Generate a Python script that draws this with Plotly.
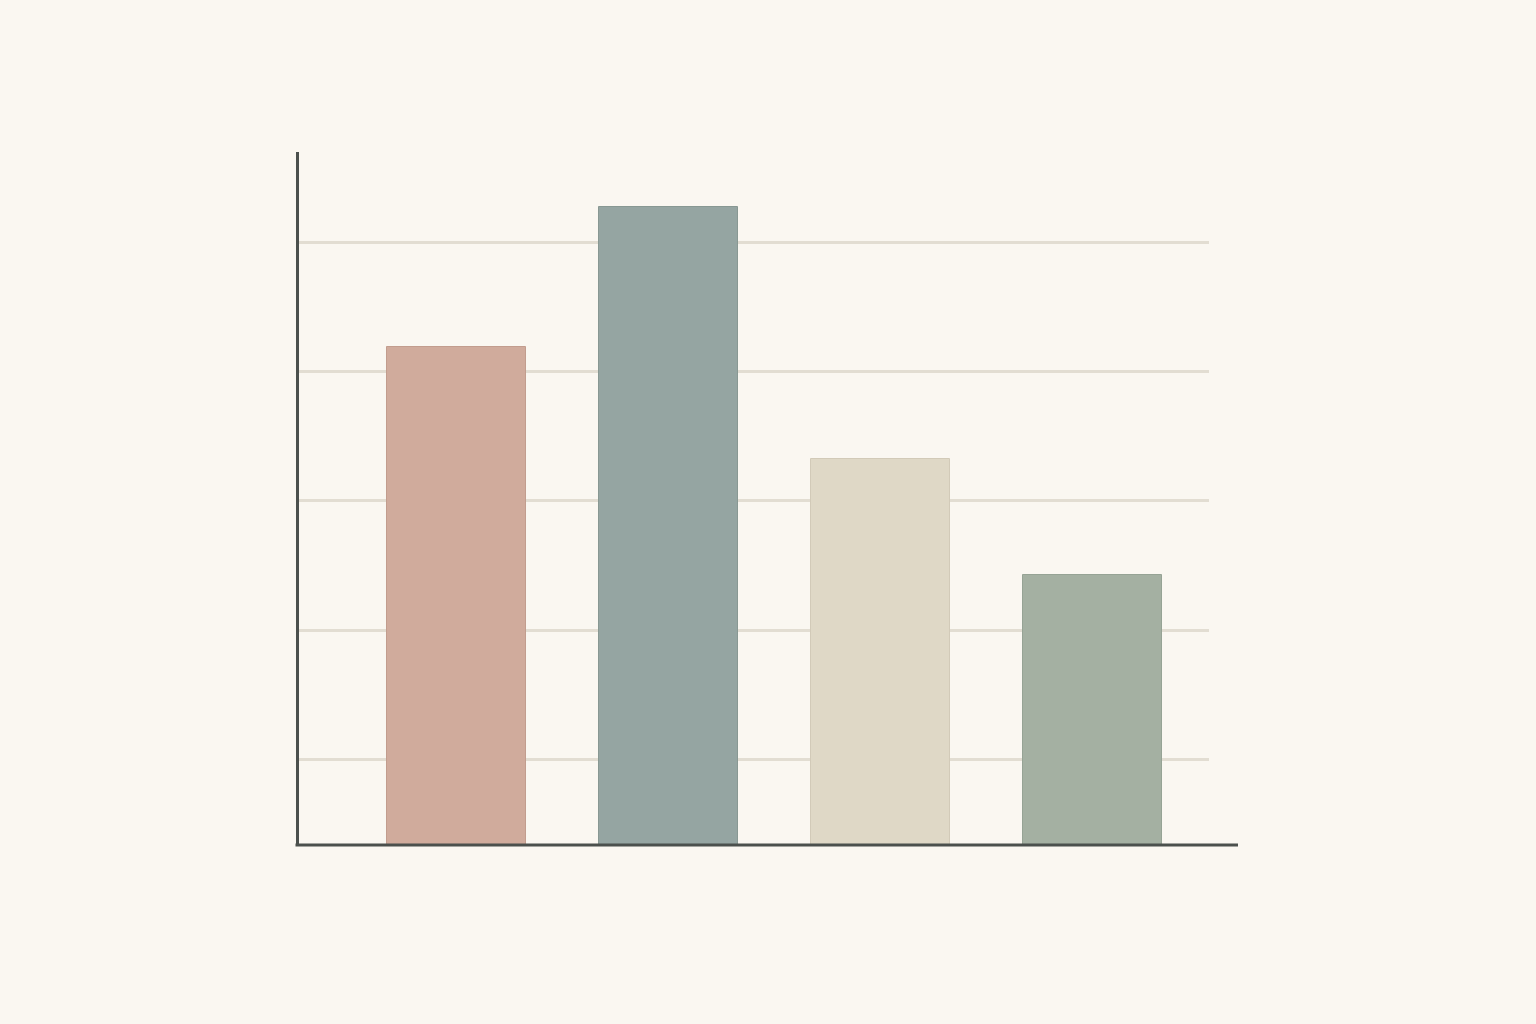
import plotly.graph_objects as go

# bar values (no labels in the picture, read off the pixel scale)
categories = [0, 1, 2, 3]
values = [38.5, 49.4, 29.9, 20.9]
bar_colors = ["#D0AB9C", "#95A5A2", "#DFD8C6", "#A4B0A2"]
edge_colors = ["#C29D8E", "#889893", "#D2CAB8", "#96A395"]
grid_vals = [6.65, 16.63, 26.62, 36.6, 46.65]

W, H = 1536, 1024
bg = "#FAF7F1"
axis_col = "#4B504D"

fig = go.Figure()
fig.add_trace(go.Bar(
    x=categories, y=values,
    width=0.656,
    marker=dict(color=bar_colors, line=dict(color=edge_colors, width=1)),
    showlegend=False, hoverinfo="skip",
))

# plot area: left axis at ~297px, gridlines stop at 1209px, base line runs on to 1238px
left, grid_right, axis_right = 299, 1209, 1238
top, bottom = 152, 845
px_per_unit = 212.0
first_center = 157.5  # px from the left edge of the plot area

fig.update_layout(
    width=W, height=H,
    paper_bgcolor=bg, plot_bgcolor=bg,
    margin=dict(l=left, r=W - grid_right, t=top, b=H - bottom, pad=0),
    bargap=0,
    xaxis=dict(
        range=[-first_center / px_per_unit,
               -first_center / px_per_unit + (grid_right - left) / px_per_unit],
        showgrid=False, zeroline=False, showline=False,
        showticklabels=False, ticks="",
    ),
    yaxis=dict(
        range=[0, (bottom - top) / 12.925],
        tickmode="array", tickvals=grid_vals,
        showgrid=True, gridcolor="#E2DDD2", gridwidth=3,
        zeroline=False, showline=True, linecolor=axis_col, linewidth=3,
        showticklabels=False, ticks="",
    ),
)

# base line runs a little past the end of the gridlines
fig.add_shape(type="line", xref="paper", yref="paper",
              x0=-3.5 / (grid_right - left), x1=(axis_right - left) / (grid_right - left),
              y0=0, y1=0,
              line=dict(color=axis_col, width=3), layer="above")

fig.write_html("out.html", config={"displayModeBar": False},
               post_script="document.body.style.margin='0';")
